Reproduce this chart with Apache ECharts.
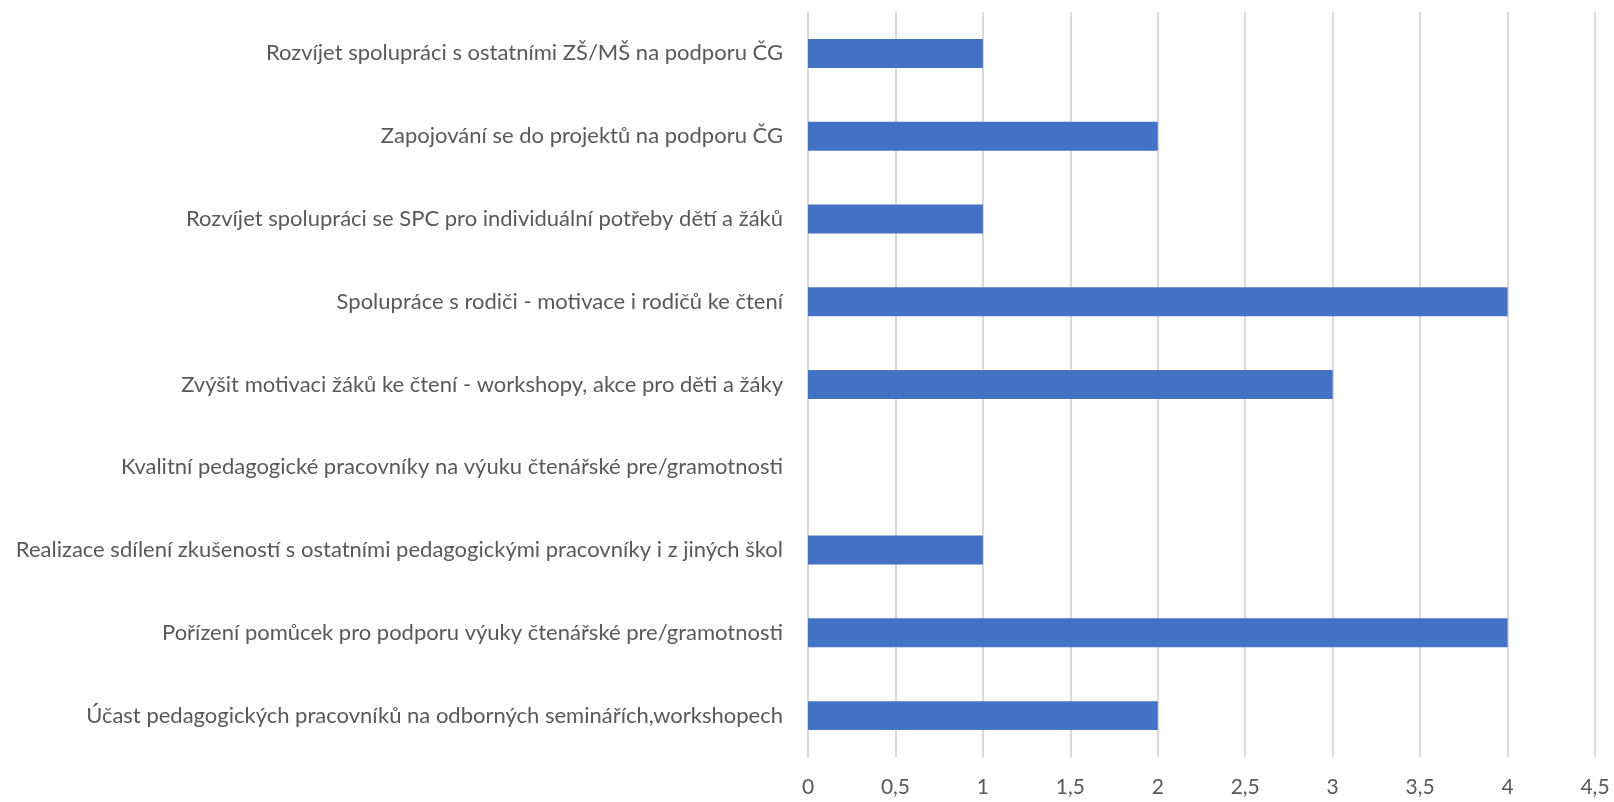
<!DOCTYPE html>
<html><head><meta charset="utf-8">
<script src="https://cdn.jsdelivr.net/npm/echarts@6/dist/echarts.min.js"></script>
<style>html,body{margin:0;padding:0;background:#fff}#c{width:1614px;height:802px}</style>
</head><body><div id="c"></div>
<script>
const categories = [
  "Účast pedagogických pracovníků na odborných seminářích,workshopech",
  "Pořízení pomůcek pro podporu výuky čtenářské pre/gramotnosti",
  "Realizace sdílení zkušeností s ostatními pedagogickými pracovníky i z jiných škol",
  "Kvalitní pedagogické pracovníky na výuku čtenářské pre/gramotnosti",
  "Zvýšit motivaci žáků ke čtení - workshopy, akce pro děti a žáky",
  "Spolupráce s rodiči - motivace i rodičů ke čtení",
  "Rozvíjet spolupráci se SPC pro individuální potřeby dětí a žáků",
  "Zapojování se do projektů na podporu ČG",
  "Rozvíjet spolupráci s ostatními ZŠ/MŠ na podporu ČG"
];
const values = [2, 4, 1, 0, 3, 4, 1, 2, 1];
const xTicks = { min: 0, max: 4.5, interval: 0.5 };

const chart = echarts.init(document.getElementById('c'));
const font = "Lato, 'Open Sans', sans-serif";
chart.setOption({
  animation: false,
  grid: { left: 808, right: 19, top: 12, bottom: 45 },
  xAxis: {
    type: 'value', min: xTicks.min, max: xTicks.max, interval: xTicks.interval,
    axisLine: { show: false }, axisTick: { show: false },
    splitLine: { lineStyle: { color: '#d9d9d9', width: 2 } },
    axisLabel: { color: '#595959', fontSize: 21, fontFamily: font, margin: 20,
      formatter: v => String(v).replace('.', ',') }
  },
  yAxis: {
    type: 'category', data: categories,
    axisLine: { show: true, lineStyle: { color: '#d9d9d9', width: 2 } },
    axisTick: { show: false },
    axisLabel: { color: '#595959', fontSize: 22, fontFamily: font, margin: 25 }
  },
  series: [{
    type: 'bar', data: values, barWidth: '35%',
    itemStyle: { color: '#4472C4' }
  }]
});
</script></body></html>
